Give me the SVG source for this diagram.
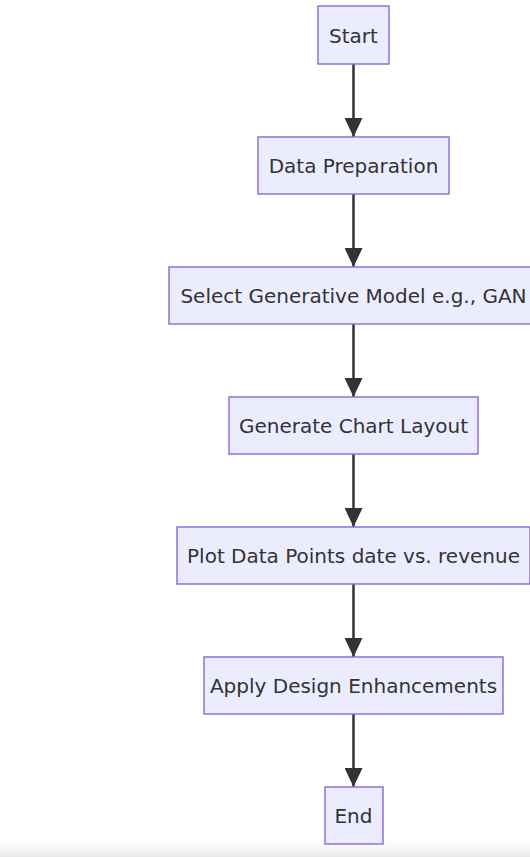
<svg xmlns="http://www.w3.org/2000/svg" width="530" height="857" viewBox="0 0 530 857">
<defs>
<marker id="arrow" viewBox="0 0 10 10" refX="10" refY="5" markerWidth="19" markerHeight="18" markerUnits="userSpaceOnUse" orient="auto" preserveAspectRatio="none">
<path d="M0,0 L10,5 L0,10 z" fill="#333333"/>
</marker>
<linearGradient id="shade" x1="0" y1="0" x2="0" y2="1">
<stop offset="0" stop-color="#ffffff" stop-opacity="0"/>
<stop offset="1" stop-color="#e8e8e8"/>
</linearGradient>
<style>
.node rect { fill: #ECECFF; stroke: #9370DB; stroke-width: 1.5; }
.node text { font-family: "DejaVu Sans", sans-serif; font-size: 20px; fill: #333333; text-anchor: middle; dominant-baseline: central; }
.edge { stroke: #333333; stroke-width: 2.5; fill: none; }
</style>
</defs>
<rect x="0" y="0" width="530" height="857" fill="#ffffff"/>
<rect x="0" y="835" width="530" height="22" fill="url(#shade)"/>
<g id="connectors">
<path class="edge" d="M353.5,64 L353.5,137" marker-end="url(#arrow)"/>
<path class="edge" d="M353.5,194 L353.5,267" marker-end="url(#arrow)"/>
<path class="edge" d="M353.5,324 L353.5,397" marker-end="url(#arrow)"/>
<path class="edge" d="M353.5,454 L353.5,527" marker-end="url(#arrow)"/>
<path class="edge" d="M353.5,584 L353.5,657" marker-end="url(#arrow)"/>
<path class="edge" d="M353.5,714 L353.5,787" marker-end="url(#arrow)"/>
</g>
<g id="start" class="node"><rect x="318" y="6" width="71" height="58"/><text x="353.5" y="36">Start</text></g>
<g id="prep" class="node"><rect x="258" y="137" width="191" height="57"/><text x="353.5" y="166">Data Preparation</text></g>
<g id="model" class="node"><rect x="169" y="267" width="369" height="57"/><text x="353.5" y="296">Select Generative Model e.g., GAN</text></g>
<g id="layout" class="node"><rect x="229" y="397" width="249" height="57"/><text x="353.5" y="426">Generate Chart Layout</text></g>
<g id="plot" class="node"><rect x="177" y="527" width="353" height="57"/><text x="353.5" y="556">Plot Data Points date vs. revenue</text></g>
<g id="design" class="node"><rect x="204" y="657" width="299" height="57"/><text x="353.5" y="686">Apply Design Enhancements</text></g>
<g id="end" class="node"><rect x="325" y="787" width="58" height="57"/><text x="353.5" y="816">End</text></g>
</svg>
